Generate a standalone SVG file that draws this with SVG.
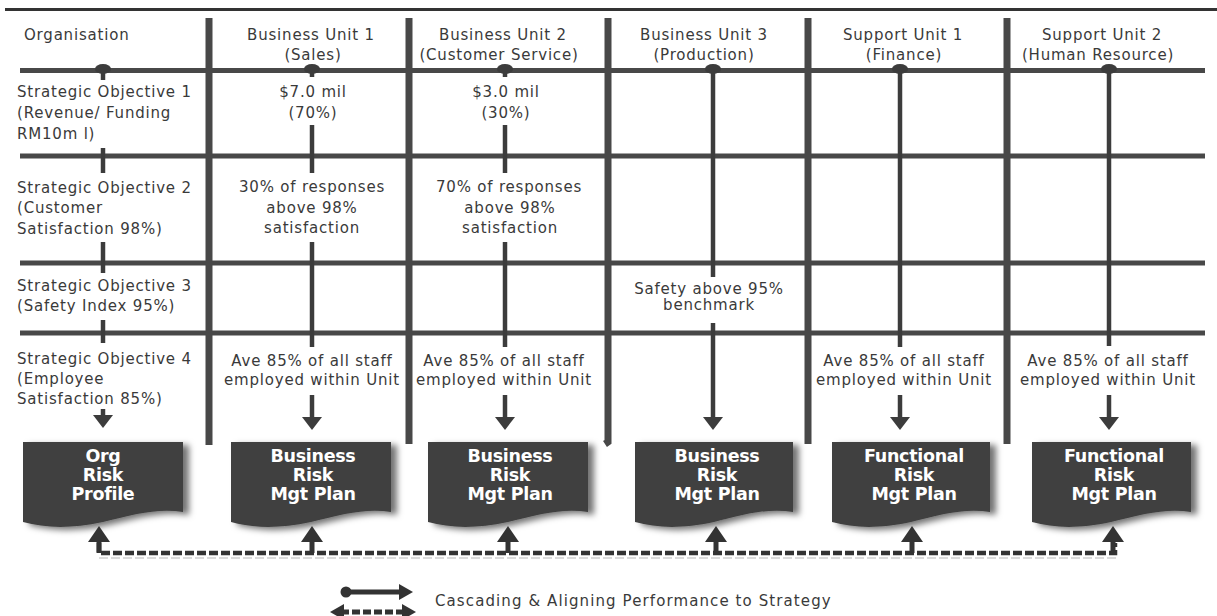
<svg xmlns="http://www.w3.org/2000/svg" width="1217" height="616" viewBox="0 0 1217 616">
  <defs>
    <style>
      .grid { stroke: #484848; fill: none; }
      .hline { stroke-width: 5; }
      .vsep { stroke-width: 7; }
      .cascade { stroke: #3c3c3c; stroke-width: 4.5; fill: none; }
      .dot { fill: #3c3c3c; }
      .t { font-family: "DejaVu Sans", "Liberation Sans", sans-serif; font-size: 15px; fill: #3a3a3a; letter-spacing: 0.8px; }
      .c { text-anchor: middle; }
      .doc { fill: #404040; filter: url(#shadow); }
      .dt { font-family: "DejaVu Sans", "Liberation Sans", sans-serif; font-weight: bold; font-size: 17.5px; fill: #ffffff; text-anchor: middle; letter-spacing: -0.3px; }
      .dash { stroke: #333333; stroke-width: 4.5; stroke-dasharray: 9 3; fill: none; }
    </style>
    <filter id="shadow" x="-10%" y="-10%" width="130%" height="130%">
      <feDropShadow dx="6" dy="3" stdDeviation="3" flood-color="#000000" flood-opacity="0.55"/>
    </filter>
    <marker id="arrow" markerUnits="userSpaceOnUse" markerWidth="14" markerHeight="20" refX="3" refY="10" orient="auto">
      <path d="M0,0 L13,10 L0,20 Z" fill="#3c3c3c"/>
    </marker>
    <marker id="arrowSmall" markerUnits="userSpaceOnUse" markerWidth="15" markerHeight="16" refX="3" refY="8" orient="auto-start-reverse">
      <path d="M0,0 L14,8 L0,16 Z" fill="#333333"/>
    </marker>
    <path id="upHead" d="M-11,0 L0,-16 L11,0 Z"/>
  </defs>

  <rect width="1217" height="616" fill="#ffffff"/>

  <!-- table frame -->
  <g id="grid" class="grid">
    <line x1="5" y1="9.5" x2="1217" y2="9.5" stroke-width="3" stroke="#333"/>
    <line class="hline" x1="20" y1="70.5" x2="1205" y2="70.5"/>
    <line class="hline" x1="20" y1="156" x2="1205" y2="156"/>
    <line class="hline" x1="20" y1="263" x2="1205" y2="263"/>
    <line class="hline" x1="20" y1="333" x2="1205" y2="333"/>
    <line class="vsep" x1="209" y1="18" x2="209" y2="445"/>
    <line class="vsep" x1="409" y1="18" x2="409" y2="444"/>
    <path class="vsep" d="M608,18 V442 L605,444"/>
    <line class="vsep" x1="808" y1="18" x2="808" y2="444"/>
    <line class="vsep" x1="1007" y1="18" x2="1007" y2="444"/>
  </g>

  <!-- column: organisation -->
  <g id="col-org">
    <text class="t" x="24" y="40">Organisation</text>
    <text class="t" x="17" y="97">Strategic Objective 1</text>
    <text class="t" x="17" y="118">(Revenue/ Funding</text>
    <text class="t" x="17" y="139">RM10m l)</text>
    <text class="t" x="17" y="193">Strategic Objective 2</text>
    <text class="t" x="17" y="213">(Customer</text>
    <text class="t" x="17" y="234">Satisfaction 98%)</text>
    <text class="t" x="17" y="291">Strategic Objective 3</text>
    <text class="t" x="17" y="311">(Safety Index 95%)</text>
    <text class="t" x="17" y="364">Strategic Objective 4</text>
    <text class="t" x="17" y="384">(Employee</text>
    <text class="t" x="17" y="404">Satisfaction 85%)</text>
  </g>

  <!-- column: business unit 1 -->
  <g id="col-bu1">
    <text class="t c" x="311" y="40">Business Unit 1</text>
    <text class="t c" x="313" y="60">(Sales)</text>
    <text class="t c" x="313" y="97">$7.0 mil</text>
    <text class="t c" x="313" y="118">(70%)</text>
    <text class="t c" x="312" y="192">30% of responses</text>
    <text class="t c" x="312" y="213">above 98%</text>
    <text class="t c" x="312" y="233">satisfaction</text>
    <text class="t c" x="312" y="366">Ave 85% of all staff</text>
    <text class="t c" x="312" y="385">employed within Unit</text>
  </g>

  <!-- column: business unit 2 -->
  <g id="col-bu2">
    <text class="t c" x="503" y="40">Business Unit 2</text>
    <text class="t c" x="499" y="60">(Customer Service)</text>
    <text class="t c" x="506" y="97">$3.0 mil</text>
    <text class="t c" x="506" y="118">(30%)</text>
    <text class="t c" x="509" y="192">70% of responses</text>
    <text class="t c" x="510" y="213">above 98%</text>
    <text class="t c" x="510" y="233">satisfaction</text>
    <text class="t c" x="504" y="366">Ave 85% of all staff</text>
    <text class="t c" x="504" y="385">employed within Unit</text>
  </g>

  <!-- column: business unit 3 -->
  <g id="col-bu3">
    <text class="t c" x="704" y="40">Business Unit 3</text>
    <text class="t c" x="704" y="60">(Production)</text>
    <text class="t c" x="709" y="294">Safety above 95%</text>
    <text class="t c" x="709" y="310">benchmark</text>
  </g>

  <!-- column: support unit 1 -->
  <g id="col-su1">
    <text class="t c" x="903" y="40">Support Unit 1</text>
    <text class="t c" x="904" y="60">(Finance)</text>
    <text class="t c" x="904" y="366">Ave 85% of all staff</text>
    <text class="t c" x="904" y="385">employed within Unit</text>
  </g>

  <!-- column: support unit 2 -->
  <g id="col-su2">
    <text class="t c" x="1102" y="40">Support Unit 2</text>
    <text class="t c" x="1098" y="60">(Human Resource)</text>
    <text class="t c" x="1108" y="366">Ave 85% of all staff</text>
    <text class="t c" x="1108" y="385">employed within Unit</text>
  </g>

  <!-- risk plan documents -->
  <g id="doc-org">
    <path class="doc" d="M23,442 H183 V512 C158,508 135,514 103,522 C70,529 45,528 23,522 Z"/>
    <text class="dt" x="103" y="462">Org</text>
    <text class="dt" x="103" y="481">Risk</text>
    <text class="dt" x="103" y="500">Profile</text>
  </g>
  <g id="doc-bu1">
    <path class="doc" d="M231,442 H391 V512 C366,508 343,514 311,522 C278,529 253,528 231,522 Z"/>
    <text class="dt" x="313" y="462">Business</text>
    <text class="dt" x="313" y="481">Risk</text>
    <text class="dt" x="313" y="500">Mgt Plan</text>
  </g>
  <g id="doc-bu2">
    <path class="doc" d="M428,442 H588 V512 C563,508 540,514 508,522 C475,529 450,528 428,522 Z"/>
    <text class="dt" x="510" y="462">Business</text>
    <text class="dt" x="510" y="481">Risk</text>
    <text class="dt" x="510" y="500">Mgt Plan</text>
  </g>
  <g id="doc-bu3">
    <path class="doc" d="M635,442 H793 V512 C768,508 745,514 714,522 C681,529 657,528 635,522 Z"/>
    <text class="dt" x="717" y="462">Business</text>
    <text class="dt" x="717" y="481">Risk</text>
    <text class="dt" x="717" y="500">Mgt Plan</text>
  </g>
  <g id="doc-su1">
    <path class="doc" d="M832,442 H990 V512 C965,508 942,514 911,522 C878,529 854,528 832,522 Z"/>
    <text class="dt" x="914" y="462">Functional</text>
    <text class="dt" x="914" y="481">Risk</text>
    <text class="dt" x="914" y="500">Mgt Plan</text>
  </g>
  <g id="doc-su2">
    <path class="doc" d="M1032,442 H1191 V512 C1166,508 1143,514 1111,522 C1078,529 1054,528 1032,522 Z"/>
    <text class="dt" x="1114" y="462">Functional</text>
    <text class="dt" x="1114" y="481">Risk</text>
    <text class="dt" x="1114" y="500">Mgt Plan</text>
  </g>

  <!-- cascading connectors -->
  <g id="connectors">
    <!-- origin dots on the header line -->
    <ellipse class="dot" cx="103" cy="69" rx="8" ry="5"/>
    <ellipse class="dot" cx="312" cy="69" rx="8" ry="5"/>
    <ellipse class="dot" cx="505" cy="69" rx="8" ry="5"/>
    <ellipse class="dot" cx="713" cy="69" rx="8" ry="5"/>
    <ellipse class="dot" cx="900" cy="69" rx="8" ry="5"/>
    <ellipse class="dot" cx="1109" cy="69" rx="8" ry="5"/>

    <!-- organisation ticks -->
    <line class="cascade" x1="103" y1="70" x2="103" y2="80"/>
    <line class="cascade" x1="103" y1="148" x2="103" y2="173"/>
    <line class="cascade" x1="103" y1="242" x2="103" y2="273"/>
    <line class="cascade" x1="103" y1="320" x2="103" y2="343"/>
    <line class="cascade" x1="103" y1="409" x2="103" y2="418" marker-end="url(#arrow)"/>

    <!-- business unit 1 -->
    <line class="cascade" x1="312" y1="70" x2="312" y2="77"/>
    <line class="cascade" x1="312" y1="125" x2="312" y2="173"/>
    <line class="cascade" x1="312" y1="242" x2="312" y2="347"/>
    <line class="cascade" x1="312" y1="395" x2="312" y2="420" marker-end="url(#arrow)"/>

    <!-- business unit 2 -->
    <line class="cascade" x1="505" y1="70" x2="505" y2="77"/>
    <line class="cascade" x1="505" y1="125" x2="505" y2="173"/>
    <line class="cascade" x1="505" y1="242" x2="505" y2="347"/>
    <line class="cascade" x1="505" y1="395" x2="505" y2="420" marker-end="url(#arrow)"/>

    <!-- business unit 3 -->
    <line class="cascade" x1="713" y1="70" x2="713" y2="277"/>
    <line class="cascade" x1="713" y1="323" x2="713" y2="420" marker-end="url(#arrow)"/>

    <!-- support unit 1 -->
    <line class="cascade" x1="900" y1="70" x2="900" y2="347"/>
    <line class="cascade" x1="900" y1="395" x2="900" y2="420" marker-end="url(#arrow)"/>

    <!-- support unit 2 -->
    <line class="cascade" x1="1109" y1="70" x2="1109" y2="346"/>
    <line class="cascade" x1="1109" y1="395" x2="1109" y2="420" marker-end="url(#arrow)"/>

    <!-- alignment feedback line -->
    <line x1="99" y1="558" x2="1117" y2="558" stroke="#999" stroke-width="2" stroke-dasharray="9 3" opacity="0.35"/>
    <path class="dash" d="M99,543 V553 H1115 V543"/>
    <g fill="#333333">
      <rect x="96.5" y="540" width="5" height="13"/>
      <use href="#upHead" x="99" y="542"/>
      <rect x="309.5" y="540" width="5" height="13"/>
      <use href="#upHead" x="312" y="542"/>
      <rect x="505.5" y="540" width="5" height="13"/>
      <use href="#upHead" x="508" y="542"/>
      <rect x="713.5" y="540" width="5" height="13"/>
      <use href="#upHead" x="716" y="542"/>
      <rect x="909.5" y="540" width="5" height="13"/>
      <use href="#upHead" x="912" y="542"/>
      <rect x="1110.5" y="540" width="5" height="13"/>
      <use href="#upHead" x="1113" y="542"/>
    </g>
  </g>

  <!-- legend -->
  <g id="legend">
    <circle cx="346" cy="592" r="5.5" fill="#333"/>
    <line x1="346" y1="592" x2="402" y2="592" stroke="#333" stroke-width="5" marker-end="url(#arrowSmall)"/>
    <line x1="341" y1="612" x2="405" y2="612" stroke="#333" stroke-width="5" stroke-dasharray="8 3" marker-start="url(#arrowSmall)" marker-end="url(#arrowSmall)"/>
    <text class="t" x="435" y="606" style="letter-spacing:1.1px">Cascading &amp; Aligning Performance to Strategy</text>
  </g>
</svg>
